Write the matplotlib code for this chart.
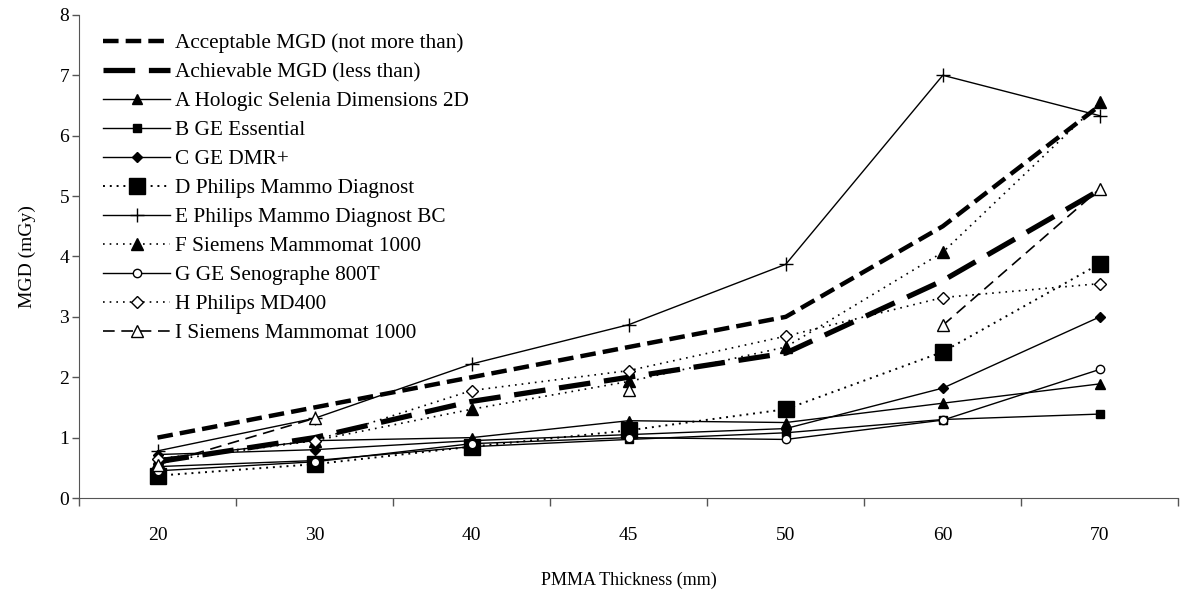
import numpy as np
import matplotlib
matplotlib.use("Agg")
import matplotlib.pyplot as plt
from matplotlib.ticker import FixedLocator

plt.rcParams["font.family"] = ["Liberation Serif", "DejaVu Serif"]

thickness = ["20", "30", "40", "45", "50", "60", "70"]

acceptable = [1.0, 1.5, 2.0, 2.5, 3.0, 4.5, 6.5]
achievable = [0.6, 1.0, 1.6, 2.0, 2.4, 3.6, 5.1]

mgd_a = [0.65, 0.95, 1.00, 1.28, 1.25, 1.57, 1.89]
mgd_b = [0.52, 0.62, 0.85, 0.97, 1.08, 1.30, 1.39]
mgd_c = [0.72, 0.80, 0.95, 1.05, 1.15, 1.82, 3.00]
mgd_d = [0.37, 0.56, 0.85, 1.12, 1.47, 2.42, 3.88]
mgd_e = [0.78, 1.32, 2.22, 2.87, 3.87, 7.00, 6.33]
mgd_f = [0.60, 0.95, 1.47, 1.93, 2.50, 4.07, 6.55]
mgd_g = [0.45, 0.60, 0.90, 1.00, 0.97, 1.29, 2.13]
mgd_h = [0.65, 0.95, 1.78, 2.11, 2.68, 3.32, 3.55]
mgd_i = [0.55, 1.32, np.nan, 1.79, np.nan, 2.86, 5.12]

labels = [
    "Acceptable MGD (not more than)",
    "Achievable MGD (less than)",
    "A Hologic Selenia Dimensions 2D",
    "B GE Essential",
    "C GE DMR+",
    "D Philips Mammo Diagnost",
    "E Philips Mammo Diagnost BC",
    "F Siemens Mammomat 1000",
    "G GE Senographe 800T",
    "H Philips MD400",
    "I Siemens Mammomat 1000",
]

fig = plt.figure(figsize=(11.86, 5.95), dpi=100)
ax = fig.add_axes([0.0666, 0.163, 0.927, 0.812])

k = "black"
ax.plot(thickness, acceptable, color=k, lw=3.2, linestyle=(0, (3.5, 1.6)), label=labels[0])
ax.plot(thickness, achievable, color=k, lw=3.8, linestyle=(0, (6, 2.6)), label=labels[1])
ax.plot(thickness, mgd_a, color=k, lw=1, marker="^", ms=7, label=labels[2])
ax.plot(thickness, mgd_b, color=k, lw=1, marker="s", ms=6, label=labels[3])
ax.plot(thickness, mgd_c, color=k, lw=1, marker="D", ms=5, label=labels[4])
ax.plot(thickness, mgd_d, color=k, lw=1.4, linestyle=(0, (1, 2.5)), marker="s", ms=11, label=labels[5])
ax.plot(thickness, mgd_e, color=k, lw=1, marker="+", ms=10, mew=1, label=labels[6])
ax.plot(thickness, mgd_f, color=k, lw=1.2, linestyle=(0, (1, 3)), marker="^", ms=8, label=labels[7])
ax.plot(thickness, mgd_g, color=k, lw=1, marker="o", ms=6, mfc="white", label=labels[8])
ax.plot(thickness, mgd_h, color=k, lw=1.2, linestyle=(0, (1, 3)), marker="D", ms=6, mfc="white", label=labels[9])
ax.plot(thickness, mgd_i, color=k, lw=1.2, linestyle=(0, (7, 4)), marker="^", ms=9, mfc="white", label=labels[10])

ax.set_xlim(-0.5, len(thickness) - 0.5)
ax.set_ylim(0, 8)
ax.set_yticks(range(0, 9))

# category boundaries carry the tick marks, labels sit in the middle
ax.xaxis.set_minor_locator(FixedLocator(np.arange(-0.5, len(thickness), 1.0)))
ax.tick_params(axis="x", which="major", length=0, pad=21, labelsize=14)
ax.tick_params(axis="x", which="minor", length=6, width=1, direction="out", color="#555555")
ax.tick_params(axis="y", length=5, width=1, color="#555555", labelsize=14, pad=2)

for side in ["top", "right"]:
    ax.spines[side].set_visible(False)
for side in ["left", "bottom"]:
    ax.spines[side].set_color("#555555")

ax.set_xlabel("PMMA Thickness (mm)", fontsize=13, labelpad=20)
ax.set_ylabel("MGD (mGy)", fontsize=14, labelpad=17)

ax.legend(loc="upper left", bbox_to_anchor=(0.022, 0.962), frameon=False,
          fontsize=15.3, handlelength=3.15, handletextpad=0.24,
          labelspacing=0.43, borderpad=0, borderaxespad=0)

fig.savefig("out.png", dpi=100)
